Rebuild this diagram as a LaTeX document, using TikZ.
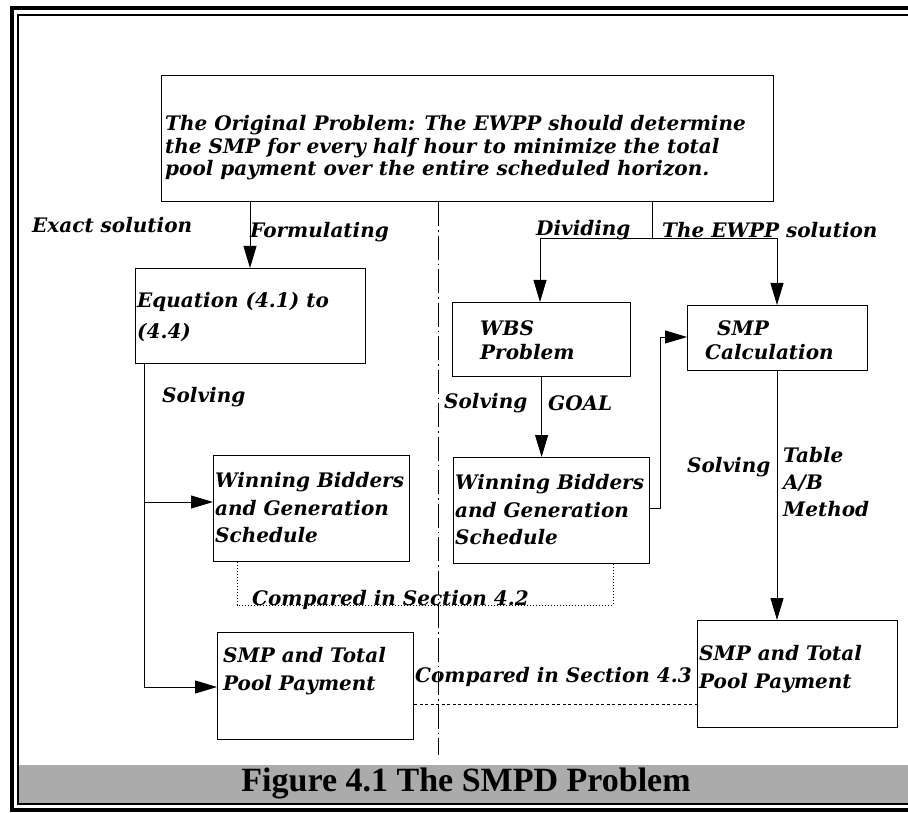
\documentclass[tikz,border=0pt]{standalone}
\usepackage{fontspec}
\setmainfont{DejaVu Serif}
\newfontfamily\capfont{Liberation Serif}
\usetikzlibrary{arrows.meta}
\begin{document}
\begin{tikzpicture}[x=1pt,y=-1pt,
  box/.style={draw, line width=1.2pt, inner sep=0pt, anchor=north west},
  lbl/.style={font=\bfseries\itshape\fontsize{20}{22.5}\selectfont, inner sep=0pt, anchor=west, align=left},
  conn/.style={line width=0.9pt},
  arr/.style={conn, -{Triangle[length=22pt,width=13pt]}},
  divider/.style={line width=0.9pt, dash pattern=on 24pt off 4pt on 1.5pt off 4pt},
]
\useasboundingbox (0,0) rectangle (908,813);
% frame
\draw[line width=3.5pt] (908,8) -- (12,8) -- (12,810) -- (908,810);
\draw[line width=1.5pt] (908,15) -- (18,15) -- (18,804) -- (908,804);
% caption band
\fill[black!33] (19,765) rectangle (908,803);
\node[font=\capfont\bfseries\fontsize{34}{34}\selectfont, inner sep=0pt] (cap) at (466,783) {Figure 4.1 The SMPD Problem};

% boxes
\node[box, minimum width=612pt, minimum height=126pt] (top) at (161,75) {};
\node[box, minimum width=230pt, minimum height=95pt] (eq) at (135,268) {};
\node[box, minimum width=178pt, minimum height=74pt] (wbs) at (452,302) {};
\node[box, minimum width=180pt, minimum height=65pt] (smpc) at (687,305) {};
\node[box, minimum width=196pt, minimum height=106pt] (win1) at (213,455) {};
\node[box, minimum width=196pt, minimum height=106pt] (win2) at (453,457) {};
\node[box, minimum width=196pt, minimum height=107pt] (smp1) at (217,632) {};
\node[box, minimum width=200pt, minimum height=107pt] (smp2) at (697,620) {};

% box texts
\node[lbl] (toptxt) at (165,148) {The Original Problem: The EWPP should determine\\the SMP for every half hour to minimize the total\\pool payment over the entire scheduled horizon.};
\node[lbl, font=\bfseries\itshape\fontsize{20}{31}\selectfont] (eqtxt) at (137,317) {Equation (4.1) to\\(4.4)};
\node[lbl, font=\bfseries\itshape\fontsize{20}{24}\selectfont] (wbstxt) at (480,340) {WBS\\Problem};
\node[lbl, font=\bfseries\itshape\fontsize{20}{24}\selectfont] (smpctxt) at (705,340) {\hspace*{12pt}SMP\\Calculation};
\node[lbl, font=\bfseries\itshape\fontsize{20}{27.5}\selectfont] (win1txt) at (215,508) {Winning Bidders\\and Generation\\Schedule};
\node[lbl, font=\bfseries\itshape\fontsize{20}{27.5}\selectfont] (win2txt) at (455,510) {Winning Bidders\\and Generation\\Schedule};
\node[lbl, font=\bfseries\itshape\fontsize{20}{28}\selectfont] (smp1txt) at (223,671) {SMP and Total\\Pool Payment};
\node[lbl, font=\bfseries\itshape\fontsize{20}{28}\selectfont] (smp2txt) at (699,669) {SMP and Total\\Pool Payment};

% labels
\node[lbl] (exact) at (32,225) {Exact solution};
\node[lbl] (formul) at (250,232) {Formulating};
\node[lbl] (divid) at (536,230) {Dividing};
\node[lbl] (ewpp) at (662,230) {The EWPP solution};
\node[lbl] (solv1) at (162,397) {Solving};
\node[lbl] (solv2) at (444,403) {Solving};
\node[lbl] (goal) at (548,403) {GOAL};
\node[lbl] (solv3) at (687,467) {Solving};
\node[lbl, font=\bfseries\itshape\fontsize{20}{27}\selectfont] (tab) at (783,482) {Table\\A/B\\Method};
\node[lbl] (cmp42) at (252,600) {Compared in Section 4.2};
\node[lbl] (cmp43) at (415,677) {Compared in Section 4.3};

% coordinates
\coordinate (fx) at (250,0);
\coordinate (divx) at (652,238);
\coordinate (divl) at (540,238);
\coordinate (divr) at (777,238);
\coordinate (lw) at (144,502);
\coordinate (ls) at (144,687);
\coordinate (rb) at (660,508);
\coordinate (rt) at (660,337);
\coordinate (cx) at (777,0);
\coordinate (c42l) at (237,605);
\coordinate (c42r) at (613,605);
\coordinate (c43) at (0,704);
\coordinate (dvb) at (438,755);

% connectors
\draw[divider] (top.south -| dvb) -- (dvb);
\draw[arr] (top.south -| fx) -- (eq.north -| fx);
\draw[conn] (top.south -| divx) -- (divx);
\draw[conn] (divl) -- (divr);
\draw[arr] (divl) -- (divl |- wbs.north);
\draw[arr] (divr) -- (divr |- smpc.north);
\draw[conn] (eq.south -| lw) -- (ls);
\draw[arr] (lw) -- (lw -| win1.west);
\draw[arr] (ls) -- (ls -| smp1.west);
\draw[arr] (wbs.south) -- (wbs.south |- win2.north);
\draw[conn] (win2.east |- rb) -- (rb) -- (rt);
\draw[arr] (rt) -- (rt -| smpc.west);
\draw[arr] (smpc.south -| cx) -- (smp2.north -| cx);
\draw[line width=1pt, dotted] (win1.south -| c42l) -- (c42l) -- (c42r) -- (win2.south -| c42r);
\draw[line width=0.9pt, dash pattern=on 3pt off 2.5pt] (smp1.east |- c43) -- (smp2.west |- c43);
\end{tikzpicture}
\end{document}
